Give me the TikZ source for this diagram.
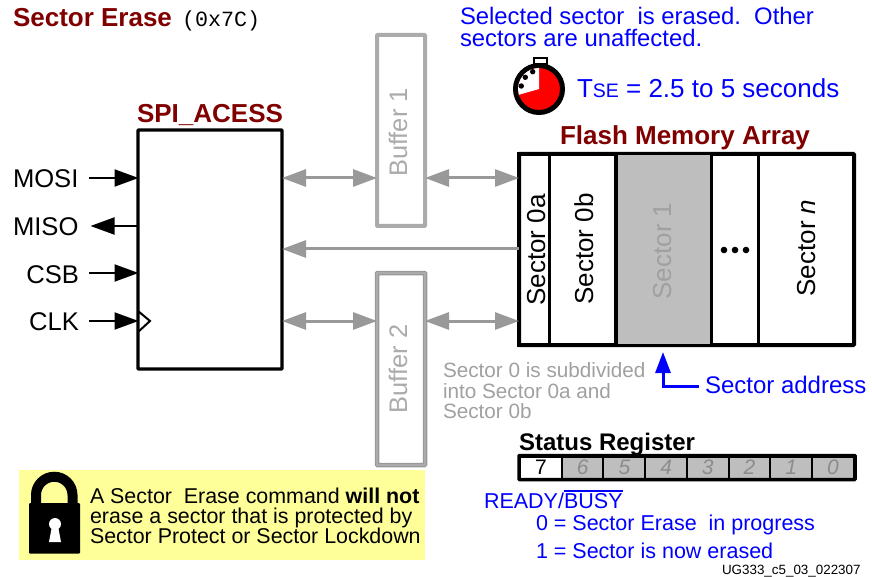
\documentclass[tikz,border=0pt]{standalone}
\usepackage{fontspec}
\setmainfont{Liberation Sans}
\setmonofont{Liberation Mono}
\usetikzlibrary{arrows.meta}
\definecolor{dkred}{HTML}{800000}
\definecolor{pureblue}{HTML}{0000FF}
\definecolor{arrowgray}{HTML}{999999}
\definecolor{lightgray}{HTML}{ABABAB}
\definecolor{sectgray}{HTML}{BEBEBE}
\definecolor{notegray}{HTML}{A0A0A0}
\definecolor{bitgray}{HTML}{8C8C8C}
\definecolor{noteyellow}{HTML}{FFFF99}
\newcommand\ovl[1]{\leavevmode\vbox{\hrule height 1.5pt\kern 1.2pt\hbox{#1}}}
\tikzset{
  fs/.style={font=\fontsize{#1}{#1}\selectfont},
  fb/.style={font=\fontsize{#1}{#1}\selectfont\bfseries},
  txt/.style={inner sep=0pt,outer sep=0pt,anchor=base west},
  rot/.style={inner sep=0pt,outer sep=0pt,anchor=base,rotate=90},
  blk/.style={draw=black,line width=3.3pt,fill=white,inner sep=0pt,outer sep=0pt,rounded corners=0.6pt},
  sect/.style={draw=black,line width=3pt,inner sep=0pt,outer sep=0pt},
  bitcell/.style={draw=black,line width=2pt,fill=sectgray,inner sep=0pt,outer sep=0pt,minimum width=42pt,minimum height=22pt,text=bitgray,font=\fontsize{21}{21}\selectfont\itshape},
  sig/.style={line width=2pt,-{Triangle[length=24pt,width=17pt]},black,shorten >=-0.5pt},
  gline/.style={line width=3pt,arrowgray},
  gboth/.style={gline,{Triangle[length=24pt,width=17pt]}-{Triangle[length=24pt,width=17pt]}},
  gone/.style={gline,{Triangle[length=24pt,width=17pt]}-},
}
\begin{document}
\begin{tikzpicture}[x=1pt,y=-1pt]
\useasboundingbox (0,0) rectangle (872,577);
% titles
\node[txt,text=dkred,fb=26] (title) at (13,27) {Sector Erase};
\node[txt,font=\fontsize{21.7}{21.7}\selectfont\ttfamily] (opcode) at (182,27) {(0x7C)};
\node[txt,fs=23.85,text=pureblue] (sel1) at (460,25) {Selected sector\ \ is erased.\ \ Other};
\node[txt,fs=23.85,text=pureblue] (sel2) at (460,47) {sectors are unaffected.};
% SPI block
\node[blk,minimum width=144pt,minimum height=239pt] (spi) at (210,249.5) {};
\node[txt,text=dkred,fb=26] (spit) at (137,123) {SPI\_ACESS};
\coordinate (y1) at (0,178);
\coordinate (y2) at (0,226);
\coordinate (y3) at (0,273);
\coordinate (y4) at (0,321);
\coordinate (ym) at (0,249);
\node[txt,fs=25.6] (mosi) at (13,187.5) {MOSI};
\node[txt,fs=25.6] (miso) at (13,236) {MISO};
\node[txt,fs=25.6,anchor=base east] (csb) at (79,283) {CSB};
\node[txt,fs=25.6,anchor=base east] (clk) at (79,330) {CLK};
\coordinate (mosie) at (89,178);
\coordinate (misoe) at (91,226);
\coordinate (csbe) at (89,273);
\coordinate (clke) at (89,321);
\draw[sig] (mosie) -- (spi.west |- y1);
\draw[sig] (spi.west |- y2) -- (misoe);
\draw[sig] (csbe) -- (spi.west |- y3);
\draw[sig] (clke) -- (spi.west |- y4);
\draw[line width=2pt,line join=miter] (138,311) -- (150,321) -- (138,332);
% Buffers
\node[draw=lightgray,line width=4pt,fill=white,rounded corners=0.6pt,inner sep=0pt,outer sep=0pt,minimum width=48pt,minimum height=191pt] (buf1) at (401,130.5) {};
\node[rot,fs=25.4,text=lightgray] (buf1t) at (407,132.5) {Buffer 1};
\node[draw=arrowgray,line width=4.5pt,fill=white,rounded corners=0.6pt,inner sep=0pt,outer sep=0pt,minimum width=48pt,minimum height=192pt] (buf2) at (401,369) {};
\draw[lightgray,line width=1.5pt] (buf2.north west) rectangle (buf2.south east);
\node[rot,fs=25.4,text=lightgray] (buf2t) at (407,369) {Buffer 2};
% Flash array
\node[sect,line width=4pt,minimum width=335pt,minimum height=191pt,fill=white,rounded corners=0.6pt] (flash) at (686.5,249.5) {};
\node[sect,minimum width=30pt,minimum height=191pt] (s0a) at (534,249.5) {};
\node[sect,fill=sectgray,minimum width=95pt,minimum height=191pt] (s1) at (663.5,249.5) {};
\node[sect,minimum width=47pt,minimum height=191pt] (sd) at (734.5,249.5) {};
\draw[line width=4.5pt] (519,154) rectangle (616,345);
\node[txt,text=dkred,fb=26] (flasht) at (560,145) {Flash Memory Array};
\node[rot,fs=26] (s0at) at (545,250) {Sector 0a};
\node[rot,fs=26] (s0bt) at (593,249) {Sector 0b};
\node[rot,fs=26,text=notegray] (s1t) at (671,251) {Sector 1};
\node[rot,fs=26] (snt) at (815,248) {Sector \textit{n}};
\fill (724,250) circle (3.3) (735,250) circle (3.3) (746,250) circle (3.3);
% Connectors
\draw[gboth] (spi.east |- y1) -- (buf1.west |- y1);
\draw[gboth] (buf1.east |- y1) -- (flash.west |- y1);
\draw[gone] (spi.east |- ym) -- (flash.west |- ym);
\draw[gboth] (spi.east |- y4) -- (buf2.west |- y4);
\draw[gboth] (buf2.east |- y4) -- (flash.west |- y4);
% Stopwatch
\coordinate (swc) at (539,89);
\draw[line width=2pt,fill=white] (533.5,64) rectangle (546.5,58);
\filldraw[draw=black,line width=5pt,fill=red] (swc) circle (23.5);
\fill[white] (swc) -- ++(164:21) arc[start angle=164,end angle=270,radius=21] -- cycle;
\fill (532.7,71.7) circle (2.7) (525.3,77.3) circle (2.7) (521.3,86) circle (2.7);
\node[txt,fs=26,text=pureblue] (tse) at (577,98) {T{\fontsize{19.5}{19.5}\selectfont SE} = 2.5 to 5 seconds};
% Notes
\node[txt,fs=20.7,text=notegray] (n1) at (443,377) {Sector 0 is subdivided};
\node[txt,fs=20.7,text=notegray] (n2) at (443,398) {into Sector 0a and};
\node[txt,fs=20.7,text=notegray] (n3) at (443,418) {Sector 0b};
\node[txt,fs=24,text=pureblue] (addr) at (705,393) {Sector address};
\coordinate (addrtip) at (663,352);
\coordinate (addrcorner) at (663,386);
\draw[pureblue,line width=3pt,{Triangle[length=21pt,width=15pt]}-] (addrtip) -- (addrcorner) -- (699,386);
% Status register
\node[txt,fb=24] (statt) at (519,450) {Status Register};
\foreach \n/\d in {7/0,6/1,5/2,4/3,3/4,2/5,1/6,0/7}{
  \node[bitcell] (b\n) at (541+\d*41.7,467.5) {\n};
}
\node[draw=black,line width=2pt,fill=white,inner sep=0pt,outer sep=0pt,minimum width=42pt,minimum height=22pt,font=\fontsize{21}{21}\selectfont] (b7) at (541,467.5) {7};
\draw[line width=3.5pt,rounded corners=0.6pt] (519,455.5) rectangle (855,479.5);
\node[txt,fs=21.5,text=pureblue] (rb) at (484,508) {READY/\ovl{BUSY}};
\node[txt,fs=21.5,text=pureblue] (r0) at (536,530) {0 = Sector Erase\ \ in progress};
\node[txt,fs=21.5,text=pureblue] (r1) at (536,558) {1 = Sector is now erased};
\node[txt,fs=13.4] (ug) at (722,574) {UG333\_c5\_03\_022307};
% Lock note
\fill[noteyellow] (19,470) rectangle (425,560);
\draw[line width=10pt] (36,506) -- (36,495) arc[start angle=180,end angle=360,radius=18.25] -- (72.5,506);
\fill[rounded corners=1pt] (29,503) rectangle (80,553.5);
\fill[white] (55,524) circle (6);
\fill[white] (52,526) -- (58,526) -- (61,542) -- (49,542) -- cycle;
\node[txt,fs=21.4] (l1) at (90,503) {A Sector\ \ Erase command \textbf{will not}};
\node[txt,fs=21.4] (l2) at (90,523) {erase a sector that is protected by};
\node[txt,fs=21.4] (l3) at (90,543) {Sector Protect or Sector Lockdown};
\end{tikzpicture}
\end{document}
